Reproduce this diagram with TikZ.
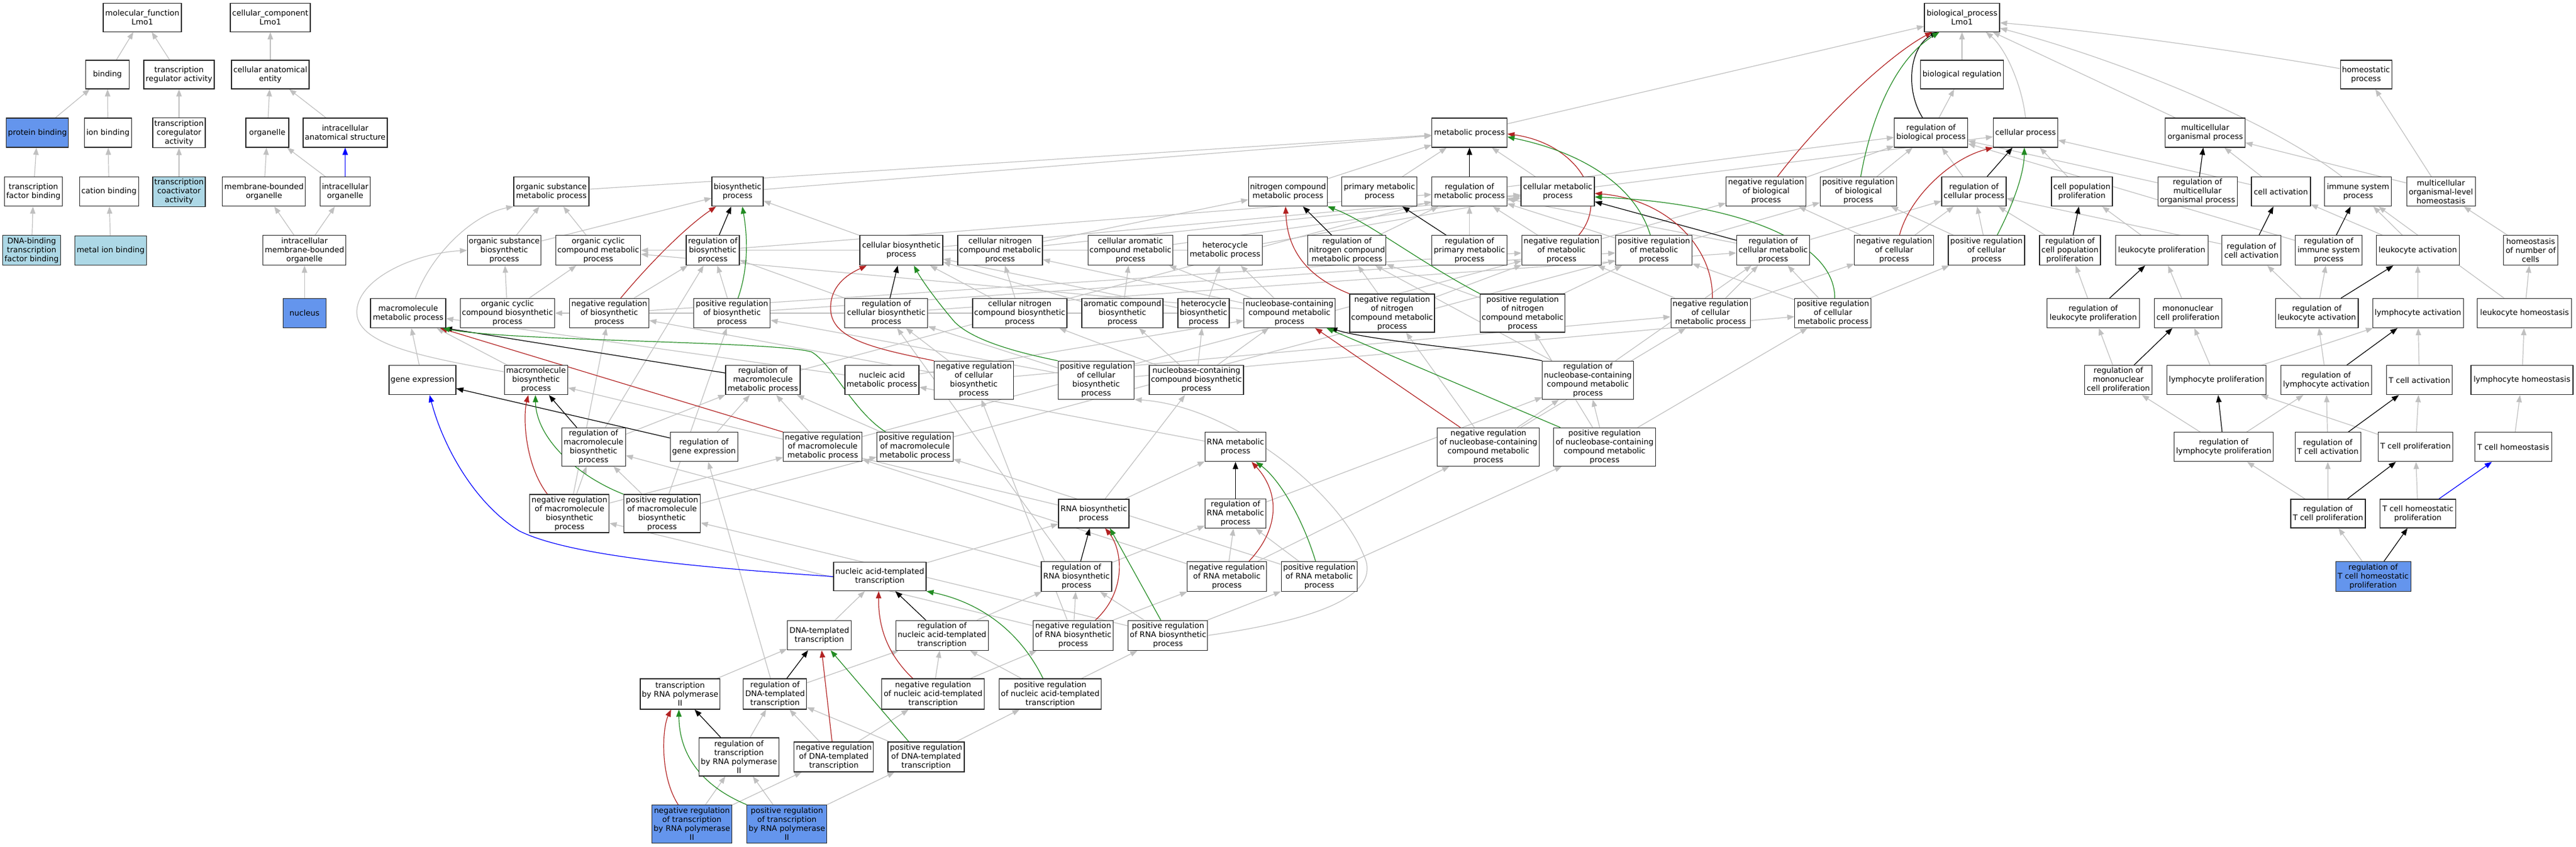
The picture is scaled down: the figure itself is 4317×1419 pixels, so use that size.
\documentclass[tikz,border=0pt]{standalone}
\usepackage{fontspec}
\setmainfont{DejaVu Sans}
\usetikzlibrary{arrows.meta}
\pgfdeclarelayer{edges}
\pgfsetlayers{edges,main}
\definecolor{cfblue}{HTML}{6495ED}
\definecolor{lblue}{HTML}{ADD8E6}
\definecolor{isagray}{HTML}{C0C0C0}
\definecolor{negred}{HTML}{B22222}
\definecolor{posgreen}{HTML}{228B22}
\newcommand\GN[6]{\node[#1,minimum width=#4pt,minimum height=#5pt] (#2) at (#3) {#6};}
\begin{document}
\begin{tikzpicture}[x=1pt,y=-1pt,
  gobox/.style={draw=black!85,line width=1.1pt,fill=white,rectangle,align=center,inner xsep=1pt,inner ysep=1pt,font=\fontsize{13pt}{15pt}\selectfont},
  selbox/.style={gobox,fill=cfblue},
  lbbox/.style={gobox,fill=lblue},
  eisa/.style={draw=isagray,line width=1.2pt,-{Triangle[length=12pt,width=9pt]}},
  ereg/.style={eisa,draw=black},
  eneg/.style={eisa,draw=negred},
  epos/.style={eisa,draw=posgreen},
  epart/.style={eisa,draw=blue}]
\useasboundingbox (0,0) rectangle (4317,1419);
% rank 0
\GN{gobox}{mf}{238.5,29.2}{131}{48}{molecular\_function\\Lmo1}
\GN{gobox}{cc}{453,29.2}{134}{48}{cellular\_component\\Lmo1}
\GN{gobox}{bp}{3288,29.2}{126}{48}{biological\_process\\Lmo1}
% rank 1
\GN{gobox}{bind}{180,125}{73}{48}{binding}
\GN{gobox}{tra}{300,125}{118}{48}{transcription\\regulator activity}
\GN{gobox}{cae}{453,125}{130}{48}{cellular anatomical\\entity}
\GN{gobox}{breg}{3288,125}{139}{48}{biological regulation}
\GN{gobox}{homp}{3965,125}{86}{48}{homeostatic\\process}
% rank 2
\GN{selbox}{pbind}{62.7,222.5}{104}{49}{protein binding}
\GN{gobox}{ibind}{181,222.5}{79}{49}{ion binding}
\GN{gobox}{tcra}{300,222.5}{88}{50}{transcription\\coregulator\\activity}
\GN{gobox}{org}{448,222.5}{72}{49}{organelle}
\GN{gobox}{ias}{578.5,222.5}{141}{49}{intracellular\\anatomical structure}
\GN{gobox}{mp}{2462.6,222.5}{126}{49}{metabolic process}
\GN{gobox}{rbp}{3236,222.5}{123}{49}{regulation of\\biological process}
\GN{gobox}{cp}{3394.5,222.5}{108}{49}{cellular process}
\GN{gobox}{mop}{3695.6,222.5}{133.5}{49}{multicellular\\organismal process}
% rank 3
\GN{gobox}{tfb}{56,321.2}{97}{49}{transcription\\factor binding}
\GN{gobox}{cbind}{182.6,321.2}{99}{49}{cation binding}
\GN{lbbox}{tcoa}{300,321.2}{88}{50}{transcription\\coactivator\\activity}
\GN{gobox}{mbo}{442.4,321.2}{139}{49}{membrane-bounded\\organelle}
\GN{gobox}{io}{578.5,321.2}{84}{49}{intracellular\\organelle}
\GN{gobox}{osmp}{924,321.2}{126}{49}{organic substance\\metabolic process}
\GN{gobox}{bsp}{1236,321.2}{86}{49}{biosynthetic\\process}
\GN{gobox}{ncmp}{2158.4,321.2}{132}{49}{nitrogen compound\\metabolic process}
\GN{gobox}{pmp}{2311.8,321.2}{126}{49}{primary metabolic\\process}
\GN{gobox}{rmp}{2462.6,321.2}{126}{49}{regulation of\\metabolic process}
\GN{gobox}{cmp}{2610.5,321.2}{123}{49}{cellular metabolic\\process}
\GN{gobox}{nrbp}{2959.7,321.2}{134}{49}{negative regulation\\of biological\\process}
\GN{gobox}{prbp}{3114.3,321.2}{128}{49}{positive regulation\\of biological\\process}
\GN{gobox}{rcp}{3308,321.2}{108}{49}{regulation of\\cellular process}
\GN{gobox}{cpp}{3489,321.2}{102}{49}{cell population\\proliferation}
\GN{gobox}{rmop}{3682.6,321.2}{133}{49}{regulation of\\multicellular\\organismal process}
\GN{gobox}{cact}{3822.4,321.2}{99}{49}{cell activation}
\GN{gobox}{isp}{3951.8,321.2}{112}{49}{immune system\\process}
\GN{gobox}{molh}{4090.6,321.2}{115}{49}{multicellular\\organismal-level\\homeostasis}
% rank 4
\GN{lbbox}{dbtf}{53,419.7}{96.5}{50}{DNA-binding\\transcription\\factor binding}
\GN{lbbox}{mib}{185.5,419.7}{120}{49}{metal ion binding}
\GN{gobox}{imbo}{510.3,419.7}{139}{50}{intracellular\\membrane-bounded\\organelle}
\GN{gobox}{osbp}{845,419.7}{123.5}{50}{organic substance\\biosynthetic\\process}
\GN{gobox}{occmp}{1002.6,419.7}{142}{50}{organic cyclic\\compound metabolic\\process}
\GN{gobox}{rbsp}{1194.5,419.7}{89}{50}{regulation of\\biosynthetic\\process}
\GN{gobox}{cbsp}{1510.5,419.7}{139}{50}{cellular biosynthetic\\process}
\GN{gobox}{cncmp}{1676,419.7}{142}{50}{cellular nitrogen\\compound metabolic\\process}
\GN{gobox}{cacmp}{1894.5,419.7}{142}{50}{cellular aromatic\\compound metabolic\\process}
\GN{gobox}{hmp}{2053,419.7}{125}{50}{heterocycle\\metabolic process}
\GN{gobox}{rncmp}{2257.4,419.7}{131}{50}{regulation of\\nitrogen compound\\metabolic process}
\GN{gobox}{rpmp}{2462.6,419.7}{126}{50}{regulation of\\primary metabolic\\process}
\GN{gobox}{nrmp}{2616.8,419.7}{133}{50}{negative regulation\\of metabolic\\process}
\GN{gobox}{prmp}{2771.7,419.7}{128}{50}{positive regulation\\of metabolic\\process}
\GN{gobox}{rcmp}{2971.6,419.7}{122.6}{50}{regulation of\\cellular metabolic\\process}
\GN{gobox}{nrcp}{3174.3,419.7}{133}{50}{negative regulation\\of cellular\\process}
\GN{gobox}{prcp}{3329,419.7}{128}{50}{positive regulation\\of cellular\\process}
\GN{gobox}{rcpp}{3469,419.7}{102}{50}{regulation of\\cell population\\proliferation}
\GN{gobox}{lprol}{3622.7,419.7}{155}{50}{leukocyte proliferation}
\GN{gobox}{rca}{3773,419.7}{99}{50}{regulation of\\cell activation}
\GN{gobox}{risp}{3902.5,419.7}{112}{50}{regulation of\\immune system\\process}
\GN{gobox}{lact}{4051.8,419.7}{139}{50}{leukocyte activation}
\GN{gobox}{hnc}{4241,419.7}{90.5}{50}{homeostasis\\of number of\\cells}
% rank 5
\GN{selbox}{nuc}{510.3,525}{72}{49}{nucleus}
\GN{gobox}{mmp}{684,525}{126}{49}{macromolecule\\metabolic process}
\GN{gobox}{occbp}{850.4,525}{158}{49}{organic cyclic\\compound biosynthetic\\process}
\GN{gobox}{nrbsp}{1021,525}{133}{49}{negative regulation\\of biosynthetic\\process}
\GN{gobox}{prbsp}{1226.7,525}{128}{49}{positive regulation\\of biosynthetic\\process}
\GN{gobox}{rcbsp}{1485.4,525}{139}{49}{regulation of\\cellular biosynthetic\\process}
\GN{gobox}{cncbp}{1709,525}{158}{49}{cellular nitrogen\\compound biosynthetic\\process}
\GN{gobox}{acbp}{1881,525}{136}{49}{aromatic compound\\biosynthetic\\process}
\GN{gobox}{hbp}{2017,525}{86}{49}{heterocycle\\biosynthetic\\process}
\GN{gobox}{nbcmp}{2161,525}{153}{49}{nucleobase-containing\\compound metabolic\\process}
\GN{gobox}{nrncmp}{2333,525}{142}{64}{negative regulation\\of nitrogen\\compound metabolic\\process}
\GN{gobox}{prncmp}{2551.7,525}{142}{64}{positive regulation\\of nitrogen\\compound metabolic\\process}
\GN{gobox}{nrcmp}{2866.6,525}{133}{49}{negative regulation\\of cellular\\metabolic process}
\GN{gobox}{prcmp}{3071.8,525}{128}{49}{positive regulation\\of cellular\\metabolic process}
\GN{gobox}{rlp}{3507.9,525}{155}{49}{regulation of\\leukocyte proliferation}
\GN{gobox}{mcp}{3666.6,525}{113}{49}{mononuclear\\cell proliferation}
\GN{gobox}{rla}{3882.7,525}{138.5}{49}{regulation of\\leukocyte activation}
\GN{gobox}{lyact}{4052,525}{152}{49}{lymphocyte activation}
\GN{gobox}{lh}{4230.8,525}{158}{49}{leukocyte homeostasis}
% rank 6
\GN{gobox}{ge}{708,637.3}{112}{49}{gene expression}
\GN{gobox}{mbp}{898.3,637.3}{106.5}{49}{macromolecule\\biosynthetic\\process}
\GN{gobox}{rmmp}{1278.5,637.3}{125}{49}{regulation of\\macromolecule\\metabolic process}
\GN{gobox}{namp}{1478,637.3}{124}{49}{nucleic acid\\metabolic process}
\GN{gobox}{nrcbsp}{1632,637.3}{133}{64}{negative regulation\\of cellular\\biosynthetic\\process}
\GN{gobox}{prcbsp}{1837,637.3}{127.6}{64}{positive regulation\\of cellular\\biosynthetic\\process}
\GN{gobox}{nbcbp}{2005,637.3}{158}{49}{nucleobase-containing\\compound biosynthetic\\process}
\GN{gobox}{rnbcmp}{2661,637.3}{152.4}{64}{regulation of\\nucleobase-containing\\compound metabolic\\process}
\GN{gobox}{rmcp}{3550,637.3}{113}{49}{regulation of\\mononuclear\\cell proliferation}
\GN{gobox}{lyprol}{3714.5,637.3}{166}{49}{lymphocyte proliferation}
\GN{gobox}{rlyact}{3898.4,637.3}{152}{49}{regulation of\\lymphocyte activation}
\GN{gobox}{tcact}{4054.5,637.3}{110}{49}{T cell activation}
\GN{gobox}{lyh}{4226.4,637.3}{171}{49}{lymphocyte homeostasis}
% rank 7
\GN{gobox}{rmbp}{994.6,749.3}{107}{64}{regulation of\\macromolecule\\biosynthetic\\process}
\GN{gobox}{rge}{1179.7,749.3}{113}{49}{regulation of\\gene expression}
\GN{gobox}{nrmmp}{1378.8,749.3}{132}{49}{negative regulation\\of macromolecule\\metabolic process}
\GN{gobox}{prmmp}{1533.4,749.3}{127.5}{49}{positive regulation\\of macromolecule\\metabolic process}
\GN{gobox}{rnamp}{2070.5,749.3}{102}{49}{RNA metabolic\\process}
\GN{gobox}{nrnbcmp}{2494.4,749.3}{171}{64}{negative regulation\\of nucleobase-containing\\compound metabolic\\process}
\GN{gobox}{prnbcmp}{2689,749.3}{170.6}{64}{positive regulation\\of nucleobase-containing\\compound metabolic\\process}
\GN{gobox}{rlyp}{3726.6,749.3}{166}{49}{regulation of\\lymphocyte proliferation}
\GN{gobox}{rtca}{3901,749.3}{110}{49}{regulation of\\T cell activation}
\GN{gobox}{tcp}{4048,749.3}{125.6}{49}{T cell proliferation}
\GN{gobox}{tch}{4211.8,749.3}{128.4}{49}{T cell homeostasis}
% rank 8
\GN{gobox}{nrmbp}{954.4,861}{133}{64}{negative regulation\\of macromolecule\\biosynthetic\\process}
\GN{gobox}{prmbp}{1109.5,861}{128.5}{64}{positive regulation\\of macromolecule\\biosynthetic\\process}
\GN{gobox}{rnabp}{1833,861}{118}{48}{RNA biosynthetic\\process}
\GN{gobox}{rrnamp}{2070.5,861}{102}{49}{regulation of\\RNA metabolic\\process}
\GN{gobox}{rtcp}{3901.4,861}{125}{48}{regulation of\\T cell proliferation}
\GN{gobox}{tchp}{4052,861}{126.7}{48}{T cell homeostatic\\proliferation}
% rank 9
\GN{gobox}{natt}{1474.5,966.6}{155}{48}{nucleic acid-templated\\transcription}
\GN{gobox}{rrnabp}{1804,966.6}{118}{50}{regulation of\\RNA biosynthetic\\process}
\GN{gobox}{nrrnamp}{2056,966.6}{133}{50}{negative regulation\\of RNA metabolic\\process}
\GN{gobox}{prrnamp}{2210.8,966.6}{127.5}{50}{positive regulation\\of RNA metabolic\\process}
\GN{selbox}{rtchp}{3977,966.6}{126}{50}{regulation of\\T cell homeostatic\\proliferation}
% rank 10
\GN{gobox}{dtt}{1373,1065.3}{107}{49}{DNA-templated\\transcription}
\GN{gobox}{rnatt}{1578.6,1065.3}{155}{50}{regulation of\\nucleic acid-templated\\transcription}
\GN{gobox}{nrrnabp}{1798.5,1065.3}{134}{50}{negative regulation\\of RNA biosynthetic\\process}
\GN{gobox}{prrnabp}{1957.4,1065.3}{133}{50}{positive regulation\\of RNA biosynthetic\\process}
% rank 11
\GN{gobox}{trp}{1139.7,1163.5}{133.5}{51}{transcription\\by RNA polymerase\\II}
\GN{gobox}{rdtt}{1298.8,1163.5}{106}{51}{regulation of\\DNA-templated\\transcription}
\GN{gobox}{nrnatt}{1563.7,1163.5}{171.6}{51}{negative regulation\\of nucleic acid-templated\\transcription}
\GN{gobox}{prnatt}{1760,1163.5}{171.6}{51}{positive regulation\\of nucleic acid-templated\\transcription}
% rank 12
\GN{gobox}{rtrp}{1238.4,1269}{134}{64}{regulation of\\transcription\\by RNA polymerase\\II}
\GN{gobox}{nrdtt}{1397.4,1269}{133}{50}{negative regulation\\of DNA-templated\\transcription}
\GN{gobox}{prdtt}{1552,1269}{128}{50}{positive regulation\\of DNA-templated\\transcription}
% rank 13
\GN{selbox}{nrtrp}{1159.5,1381.5}{133.5}{64}{negative regulation\\of transcription\\by RNA polymerase\\II}
\GN{selbox}{prtrp}{1318.7,1381.5}{134}{64}{positive regulation\\of transcription\\by RNA polymerase\\II}

\begin{pgfonlayer}{edges}
\foreach \a/\b in {bind/mf, tra/mf, cae/cc, pbind/bind, ibind/bind, tcra/tra, org/cae, ias/cae, tfb/pbind, cbind/ibind, tcoa/tcra, mbo/org, io/org, dbtf/tfb, mib/cbind, imbo/mbo, imbo/io, nuc/imbo,
 breg/bp, mp/bp, rbp/breg, nrbp/rbp, prbp/rbp, rcp/rbp, nrcp/nrbp, nrcp/rcp, prcp/prbp, prcp/rcp, cpp/cp, rcpp/rcp, rmp/rbp, nrmp/rmp, nrmp/nrbp, prmp/rmp, prmp/prbp, pmp/mp, ncmp/mp, cmp/mp, cmp/cp, osmp/mp, bsp/mp, rcmp/rmp, rcmp/rcp, nrcmp/nrmp, nrcmp/rcmp, nrcmp/nrcp, prcmp/prmp, prcmp/rcmp, prcmp/prcp, rpmp/rmp, rncmp/rmp, nrncmp/rncmp, nrncmp/nrmp, prncmp/rncmp, prncmp/prmp, rmop/rbp, cact/cp, cact/mop, molh/homp, molh/mop, hnc/molh, lact/cact, lact/isp, rca/rcp, risp/rbp, lprol/cpp, rlp/rcpp, mcp/lprol, rmcp/rlp, rla/rca, rla/risp, lyact/lact, lh/hnc, lh/isp, lyprol/mcp, lyprol/lyact, rlyact/rla, tcact/lyact, lyh/lh, rlyp/rmcp, rlyp/rlyact, rtca/rlyact, tcp/lyprol, tcp/tcact, tch/lyh, rtcp/rlyp, rtcp/rtca, tchp/tcp, rtchp/rtcp,
 osbp/osmp, osbp/bsp, occmp/osmp, rbsp/rmp, cbsp/bsp, cbsp/cmp, cncmp/ncmp, cncmp/cmp, cacmp/cmp, hmp/occmp, hmp/cmp, occbp/osbp, occbp/occmp, nrbsp/rbsp, nrbsp/nrmp, prbsp/rbsp, prbsp/prmp, rcbsp/rbsp, rcbsp/rcmp, cncbp/cncmp, cncbp/cbsp, acbp/cacmp, acbp/cbsp, hbp/hmp, hbp/occbp, hbp/cbsp, nbcmp/cacmp, nbcmp/hmp, nbcmp/cncmp, nbcmp/occmp, ge/mmp, mbp/mmp, rmmp/rmp, namp/mmp, namp/nbcmp, nrcbsp/nrbsp, nrcbsp/rcbsp, nrcbsp/nrcmp, prcbsp/prbsp, prcbsp/rcbsp, prcbsp/prcmp, nbcbp/nbcmp, nbcbp/hbp, nbcbp/acbp, nbcbp/cncbp, rnbcmp/rcmp, rnbcmp/rncmp, rmbp/rbsp, rmbp/rmmp, rge/rmmp, nrmmp/rmmp, nrmmp/nrmp, prmmp/rmmp, prmmp/prmp, rnamp/namp, nrnbcmp/rnbcmp, nrnbcmp/nrcmp, nrnbcmp/nrncmp, prnbcmp/rnbcmp, prnbcmp/prcmp, prnbcmp/prncmp, nrmbp/rmbp, nrmbp/nrbsp, nrmbp/nrmmp, prmbp/rmbp, prmbp/prbsp, prmbp/prmmp, rnabp/rnamp, rnabp/nbcbp, rnabp/mbp, rrnamp/rnbcmp, natt/rnabp, rrnabp/rrnamp, rrnabp/rcbsp, rrnabp/rmbp, nrrnamp/rrnamp, nrrnamp/nrnbcmp, nrrnamp/nrmmp, prrnamp/rrnamp, prrnamp/prnbcmp, prrnamp/prmmp, dtt/natt, rnatt/rrnabp, nrrnabp/rrnabp, nrrnabp/nrrnamp, nrrnabp/nrcbsp, nrrnabp/nrmbp, prrnabp/rrnabp, prrnabp/prrnamp, prrnabp/prmbp, trp/dtt, rdtt/rnatt, rdtt/rge, nrnatt/rnatt, nrnatt/nrrnabp, prnatt/rnatt, prnatt/prrnabp, rtrp/rdtt, nrdtt/rdtt, nrdtt/nrnatt, prdtt/rdtt, prdtt/prnatt, nrtrp/rtrp, nrtrp/nrdtt, prtrp/rtrp, prtrp/prdtt}
 {\draw[eisa] (\a) -- (\b);}
\draw[eisa] (cp.north) .. controls (3388,140) and (3360,80) .. ([xshift=40pt]bp.south);
\draw[eisa] ([yshift=10pt]homp.west) .. controls (3750,85) and (3500,50) .. ([yshift=-9pt]bp.east);
\draw[eisa] ([xshift=-27pt]isp.north) .. controls (3800,200) and (3550,100) .. ([yshift=-18pt]bp.east);
\draw[eisa] ([xshift=-50pt]mop.north) -- ([xshift=-12pt]bp.south east);
\draw[eisa] ([yshift=14pt]mbp.west) .. controls (720,600) and (600,580) .. (598,525) .. controls (596,470) and (690,425) .. (osbp.west);
\draw[eisa] ([xshift=12pt]mmp.north) .. controls (720,430) and (790,360) .. (osmp.south west);
\draw[eisa] (prrnabp.east) .. controls (2200,1040) and (2320,1000) .. (2285,930) .. controls (2240,820) and (2060,680) .. (prcbsp.south east);
% regulates (black)
\foreach \a/\b in {rcp/cp, rcpp/cpp, rmp/mp, rcmp/cmp, rpmp/pmp, rncmp/ncmp, rmop/mop, rca/cact, risp/isp, rlp/lprol, rmcp/mcp, rla/lact, rlyact/lyact, rlyp/lyprol, rtca/tcact, rtcp/tcp, rtchp/tchp, rbsp/bsp, rcbsp/cbsp, rmbp/mbp, rrnamp/rnamp, rrnabp/rnabp, rnatt/natt, rdtt/dtt, rtrp/trp}
 {\draw[ereg] (\a) -- (\b);}
\draw[ereg] ([xshift=-14pt]rbp.north) .. controls (3192,150) and (3200,78) .. ([xshift=-41pt]bp.south);
\draw[ereg] ([yshift=15pt]rge.west) -- ([yshift=-14pt]ge.east);
\draw[ereg] ([yshift=12pt]rmmp.west) -- ([xshift=-2pt]mmp.south east);
\draw[ereg] (rnbcmp.north west) .. controls (2500,588) and (2300,572) .. ([xshift=68pt]nbcmp.south);
% negative regulation (red)
\draw[eneg] ([xshift=19pt]nrbp.north) .. controls (3060,190) and (3170,90) .. ([xshift=-50pt]bp.south);
\draw[eneg] ([xshift=9pt]nrcp.north) .. controls (3200,330) and (3270,265) .. (cp.south west);
\draw[eneg] ([xshift=29pt]nrmp.north) .. controls (2700,330) and (2640,240) .. ([yshift=-2pt]mp.east);
\draw[eneg] ([xshift=3pt]nrcmp.north) .. controls (2872,420) and (2800,335) .. ([yshift=-3pt]cmp.east);
\draw[eneg] (nrncmp.north west) .. controls (2180,460) and (2157,410) .. ([xshift=-4pt]ncmp.south);
\draw[eneg] ([xshift=19pt]nrbsp.north) .. controls (1090,440) and (1150,380) .. ([xshift=-36pt]bsp.south);
\draw[eneg] (nrcbsp.north west) .. controls (1470,585) and (1395,570) .. (1392,520) .. controls (1390,480) and (1420,460) .. ([xshift=12pt]cbsp.south west);
\draw[eneg] ([xshift=-37pt]nrmbp.north) .. controls (880,780) and (876,700) .. ([xshift=-13pt]mbp.south);
\draw[eneg] (nrmmp.north west) -- ([xshift=-10pt]mmp.south east);
\draw[eneg] ([xshift=-47pt]nrnbcmp.north) -- ([xshift=43pt]nbcmp.south);
\draw[eneg] ([xshift=37pt]nrrnamp.north) .. controls (2150,880) and (2140,820) .. ([xshift=27pt]rnamp.south);
\draw[eneg] ([xshift=37pt]nrrnabp.north) .. controls (1890,990) and (1880,920) .. ([xshift=19pt]rnabp.south);
\draw[eneg] ([xshift=-34pt]nrnatt.north) .. controls (1480,1090) and (1472,1040) .. ([xshift=-2pt]natt.south);
\draw[eneg] ([xshift=-3pt]nrdtt.north) -- ([xshift=4pt]dtt.south);
\draw[eneg] ([xshift=-23pt]nrtrp.north) .. controls (1105,1300) and (1110,1220) .. ([xshift=-15pt]trp.south);
% positive regulation (green)
\draw[epos] ([xshift=4pt]prbp.north) .. controls (3135,200) and (3175,100) .. ([xshift=-38pt]bp.south);
\draw[epos] ([xshift=18pt]prcp.north) .. controls (3375,340) and (3392,290) .. ([xshift=-2pt]cp.south);
\draw[epos] ([xshift=-6pt]prmp.north) .. controls (2740,310) and (2650,255) .. ([yshift=-7pt]mp.east);
\draw[epos] ([xshift=3pt]prcmp.north) .. controls (3075,400) and (2900,340) .. ([yshift=-9pt]cmp.east);
\draw[epos] (prncmp.north west) .. controls (2380,440) and (2290,370) .. (ncmp.south east);
\draw[epos] ([xshift=10pt]prbsp.north) .. controls (1258,440) and (1250,380) .. ([xshift=8pt]bsp.south);
\draw[epos] (prcbsp.north west) .. controls (1700,590) and (1630,570) .. (1600,540) .. controls (1570,505) and (1545,470) .. ([xshift=21pt]cbsp.south);
\draw[epos] (prmbp.north west) .. controls (960,795) and (898,730) .. ([xshift=-1pt]mbp.south);
\draw[epos] ([xshift=-49pt]prmmp.north) .. controls (1430,690) and (1395,610) .. (1360,590) .. controls (1300,572) and (850,572) .. ([xshift=-6pt]mmp.south east);
\draw[epos] ([xshift=-74pt]prnbcmp.north) -- ([xshift=62pt]nbcmp.south);
\draw[epos] ([xshift=-6pt]prrnamp.north) .. controls (2180,860) and (2140,800) .. ([xshift=34pt]rnamp.south);
\draw[epos] ([xshift=-12pt]prrnabp.north) -- ([xshift=27pt]rnabp.south);
\draw[epos] ([xshift=-12pt]prnatt.north) .. controls (1700,1040) and (1620,1005) .. (natt.south east);
\draw[epos] ([xshift=-29pt]prdtt.north) -- ([xshift=19pt]dtt.south);
\draw[epos] (prtrp.north west) .. controls (1170,1315) and (1138,1260) .. ([xshift=-2pt]trp.south);
% part of (blue)
\draw[epart] (io) -- (ias);
\draw[epart] (tchp) -- (tch);
\draw[epart] (natt.west) .. controls (1150,950) and (950,930) .. (870,890) .. controls (790,840) and (740,740) .. ([xshift=12pt]ge.south);
\end{pgfonlayer}
\end{tikzpicture}
\end{document}
